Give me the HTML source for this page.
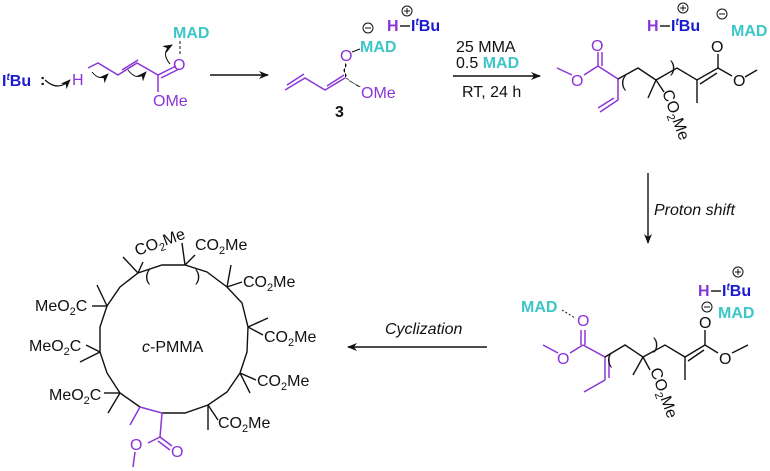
<!DOCTYPE html>
<html><head><meta charset="utf-8"><style>
body{margin:0;background:#fff}
svg{display:block}
text{font-family:"Liberation Sans",Arial,sans-serif;font-size:16px;fill:#111}
.p{fill:#8a35d6}.c{fill:#3cc6c8;font-weight:bold}.b{fill:#1a1ad0;font-weight:bold}
.k line,.k polyline,.k polygon{stroke:#111;stroke-width:1.4;fill:none}
.pl line,.pl polyline{stroke:#8a35d6;stroke-width:1.5;fill:none}
.i{font-style:italic}
</style></head><body>
<svg width="770" height="471" viewBox="0 0 770 471">
<defs><marker id="ah" markerWidth="10" markerHeight="8" refX="9" refY="4" orient="auto" markerUnits="userSpaceOnUse"><path d="M0,0 L10,4 L0,8 L3,4z" fill="#111"/></marker></defs>

<!-- top left -->
<text x="2" y="86" class="b">I<tspan font-size="10" dy="-6" font-style="italic">t</tspan><tspan dy="6">Bu</tspan></text>
<text x="40" y="85" font-weight="bold">:</text>
<path d="M45,80 Q58,92 70,80" stroke="#111" fill="none" stroke-width="1.2" marker-end="url(#ah)"/>
<text x="72" y="85" class="p" font-size="17">H</text>
<g class="pl"><polyline points="88,68 98,63 118,75 137,63 158,75 176,66"/><line x1="122" y1="70" x2="138" y2="60"/><line x1="161" y1="78" x2="179" y2="69"/><line x1="158" y1="75" x2="158" y2="92"/></g>
<text x="173" y="70" class="p" font-size="17">O</text>
<text x="153" y="106" class="p">OMe</text>
<text x="173" y="38" class="c">MAD</text>
<line x1="180" y1="41" x2="180" y2="55" stroke="#111" stroke-dasharray="3,2"/>
<path d="M92,72 Q100,82 108,74" stroke="#111" fill="none" marker-end="url(#ah)"/>
<path d="M128,70 Q137,82 146,72" stroke="#111" fill="none" marker-end="url(#ah)"/>
<path d="M170,64 Q160,52 172,45" stroke="#111" fill="none" marker-end="url(#ah)"/>
<line x1="210" y1="75" x2="268" y2="75" stroke="#111" stroke-width="1.4" marker-end="url(#ah)"/>

<!-- compound 3 -->
<g class="pl"><polyline points="285,90 305,78 325,90 345,78"/><line x1="287" y1="85" x2="304" y2="74"/><line x1="327" y1="86" x2="344" y2="75"/><path d="M345,78 q3,-3 0,-5 q-3,-3 0,-5 q3,-3 0,-5" /><path d="M345,78 q4,0 4,3 q3,2 6,3 q2,3 6,3"/></g>
<text x="340" y="61" class="p" font-size="17">O</text>
<line x1="352" y1="52" x2="360" y2="49" stroke="#111"/>
<text x="360" y="52" class="c">MAD</text>
<text x="361" y="98" class="p">OMe</text>
<text x="335" y="117" font-weight="bold">3</text>
<circle cx="368" cy="28" r="5" fill="none" stroke="#111"/><line x1="365" y1="28" x2="371" y2="28" stroke="#111"/>
<text x="387" y="31" class="p" font-weight="bold">H</text><line x1="400" y1="26" x2="410" y2="26" stroke="#111" stroke-width="1.4"/>
<text x="411" y="31" class="b">I<tspan font-size="10" dy="-6" font-style="italic">t</tspan><tspan dy="6">Bu</tspan></text>
<circle cx="407" cy="11" r="5" fill="none" stroke="#111"/><path d="M404,11h6M407,8v6" stroke="#111"/>

<line x1="453" y1="76" x2="540" y2="76" stroke="#111" stroke-width="1.4" marker-end="url(#ah)"/>
<text x="456" y="52">25 MMA</text>
<text x="456" y="68">0.5 <tspan class="c">MAD</tspan></text>
<text x="462" y="97">RT, 24 h</text>

<!-- top right compound -->
<g class="pl"><line x1="557" y1="68" x2="572" y2="75"/><line x1="584" y1="75" x2="598" y2="66"/><line x1="598" y1="66" x2="598" y2="52"/><line x1="602" y1="66" x2="602" y2="52"/><line x1="598" y1="66" x2="618" y2="79"/><polyline points="618,79 618,100 600,112"/><line x1="614" y1="98" x2="598" y2="108"/></g>
<text x="591" y="51" class="p" font-size="17">O</text>
<text x="571" y="86" class="p" font-size="17">O</text>
<g class="k"><polyline points="618,79 638,68 656,80 677,68 697,80 718,68"/><line x1="697" y1="80" x2="697" y2="103"/><line x1="700" y1="84" x2="717" y2="73"/><line x1="656" y1="80" x2="648" y2="98"/><line x1="656" y1="80" x2="664" y2="92"/><line x1="718" y1="68" x2="718" y2="54"/><line x1="718" y1="68" x2="732" y2="76"/><line x1="745" y1="77" x2="757" y2="70"/></g>
<text x="621" y="87" font-size="18">(</text><text x="670" y="72" font-size="18">)</text>
<text x="0" y="0" transform="translate(662,92) rotate(70)">CO<tspan font-size="11" dy="4">2</tspan><tspan dy="-4">Me</tspan></text>
<text x="711" y="52" font-size="17">O</text><text x="733" y="86" font-size="17">O</text>
<text x="647" y="31" class="p" font-weight="bold">H</text><line x1="660" y1="26" x2="670" y2="26" stroke="#111" stroke-width="1.4"/>
<text x="671" y="31" class="b">I<tspan font-size="10" dy="-6" font-style="italic">t</tspan><tspan dy="6">Bu</tspan></text>
<circle cx="683" cy="8" r="5" fill="none" stroke="#111"/><path d="M680,8h6M683,5v6" stroke="#111"/>
<circle cx="722" cy="14" r="5" fill="none" stroke="#111"/><line x1="719" y1="14" x2="725" y2="14" stroke="#111"/>
<text x="731" y="36" class="c">MAD</text>

<line x1="648" y1="173" x2="648" y2="243" stroke="#111" stroke-width="1.4" marker-end="url(#ah)"/>
<text x="654" y="215" class="i">Proton shift</text>

<!-- bottom right compound -->
<text x="521" y="312" class="c">MAD</text>
<line x1="562" y1="310" x2="575" y2="318" stroke="#111" stroke-dasharray="2,2"/>
<text x="577" y="326" class="p" font-size="17">O</text>
<g class="pl"><line x1="581" y1="330" x2="581" y2="345"/><line x1="585" y1="330" x2="585" y2="345"/><line x1="543" y1="345" x2="558" y2="353"/><line x1="570" y1="353" x2="583" y2="345"/><line x1="583" y1="345" x2="605" y2="357"/><line x1="605" y1="357" x2="605" y2="380"/><line x1="609" y1="359" x2="609" y2="378"/><line x1="605" y1="380" x2="584" y2="392"/></g>
<text x="557" y="364" class="p" font-size="17">O</text>
<g class="k"><polyline points="605,357 625,345 643,357 665,345 685,357 705,345"/><line x1="643" y1="357" x2="633" y2="375"/><line x1="643" y1="357" x2="650" y2="370"/><line x1="685" y1="357" x2="685" y2="380"/><line x1="688" y1="361" x2="704" y2="350"/><line x1="705" y1="345" x2="705" y2="330"/><line x1="705" y1="345" x2="718" y2="353"/><line x1="732" y1="353" x2="748" y2="345"/></g>
<text x="607" y="364" font-size="18">(</text><text x="653" y="349" font-size="18">)</text>
<text x="0" y="0" transform="translate(650,370) rotate(70)">CO<tspan font-size="11" dy="4">2</tspan><tspan dy="-4">Me</tspan></text>
<text x="699" y="328" font-size="17">O</text><text x="719" y="364" font-size="17">O</text>
<text x="698" y="296" class="p" font-weight="bold">H</text><line x1="711" y1="291" x2="721" y2="291" stroke="#111" stroke-width="1.4"/>
<text x="722" y="296" class="b">I<tspan font-size="10" dy="-6" font-style="italic">t</tspan><tspan dy="6">Bu</tspan></text>
<circle cx="738" cy="272" r="5" fill="none" stroke="#111"/><path d="M735,272h6M738,269v6" stroke="#111"/>
<circle cx="707" cy="307" r="5" fill="none" stroke="#111"/><line x1="704" y1="307" x2="710" y2="307" stroke="#111"/>
<text x="718" y="318" class="c">MAD</text>

<line x1="487" y1="347" x2="348" y2="347" stroke="#111" stroke-width="1.4" marker-end="url(#ah)"/>
<text x="385" y="334" class="i">Cyclization</text>

<!-- ring -->
<g class="k"><polyline points="140,407 120,393 107,373 100,352 100,327 107,306 120,287 138,273 162,265 185,265 207,272 227,287 242,303 248,327 247,352 240,373 227,392 208,405 185,413 162,413"/>
<line x1="138" y1="273" x2="123" y2="257"/><line x1="138" y1="273" x2="143" y2="262"/>
<line x1="185" y1="265" x2="182" y2="243"/><line x1="185" y1="265" x2="195" y2="255"/>
<line x1="227" y1="287" x2="231" y2="265"/><line x1="227" y1="287" x2="242" y2="282"/>
<line x1="248" y1="327" x2="268" y2="318"/><line x1="248" y1="327" x2="263" y2="335"/>
<line x1="240" y1="373" x2="250" y2="393"/><line x1="240" y1="373" x2="256" y2="380"/>
<line x1="208" y1="405" x2="208" y2="430"/><line x1="208" y1="405" x2="218" y2="420"/>
<line x1="107" y1="306" x2="97" y2="285"/><line x1="107" y1="306" x2="92" y2="306"/>
<line x1="100" y1="352" x2="80" y2="362"/><line x1="100" y1="352" x2="86" y2="345"/>
<line x1="120" y1="393" x2="108" y2="413"/><line x1="120" y1="393" x2="104" y2="393"/></g>
<g class="pl"><polyline points="140,407 162,413 160,437"/><line x1="140" y1="407" x2="130" y2="425"/><line x1="160" y1="437" x2="172" y2="446"/><line x1="158" y1="441" x2="170" y2="450"/><line x1="160" y1="437" x2="148" y2="443"/><line x1="135" y1="452" x2="133" y2="467"/></g>
<text x="171" y="457" class="p" font-size="17">O</text>
<text x="130" y="450" class="p" font-size="17">O</text>
<text x="145" y="281" font-size="17">(</text><text x="195" y="281" font-size="17">)</text>
<text x="0" y="0" transform="translate(137,256) rotate(-20)">CO<tspan font-size="11" dy="4">2</tspan><tspan dy="-4">Me</tspan></text>
<text x="195" y="250">CO<tspan font-size="11" dy="4">2</tspan><tspan dy="-4">Me</tspan></text>
<text x="243" y="287">CO<tspan font-size="11" dy="4">2</tspan><tspan dy="-4">Me</tspan></text>
<text x="264" y="342">CO<tspan font-size="11" dy="4">2</tspan><tspan dy="-4">Me</tspan></text>
<text x="257" y="386">CO<tspan font-size="11" dy="4">2</tspan><tspan dy="-4">Me</tspan></text>
<text x="218" y="428">CO<tspan font-size="11" dy="4">2</tspan><tspan dy="-4">Me</tspan></text>
<text x="35" y="311">MeO<tspan font-size="11" dy="4">2</tspan><tspan dy="-4">C</tspan></text>
<text x="29" y="351">MeO<tspan font-size="11" dy="4">2</tspan><tspan dy="-4">C</tspan></text>
<text x="49" y="400">MeO<tspan font-size="11" dy="4">2</tspan><tspan dy="-4">C</tspan></text>
<text x="142" y="352"><tspan font-style="italic">c</tspan>-PMMA</text>
</svg>
</body></html>
